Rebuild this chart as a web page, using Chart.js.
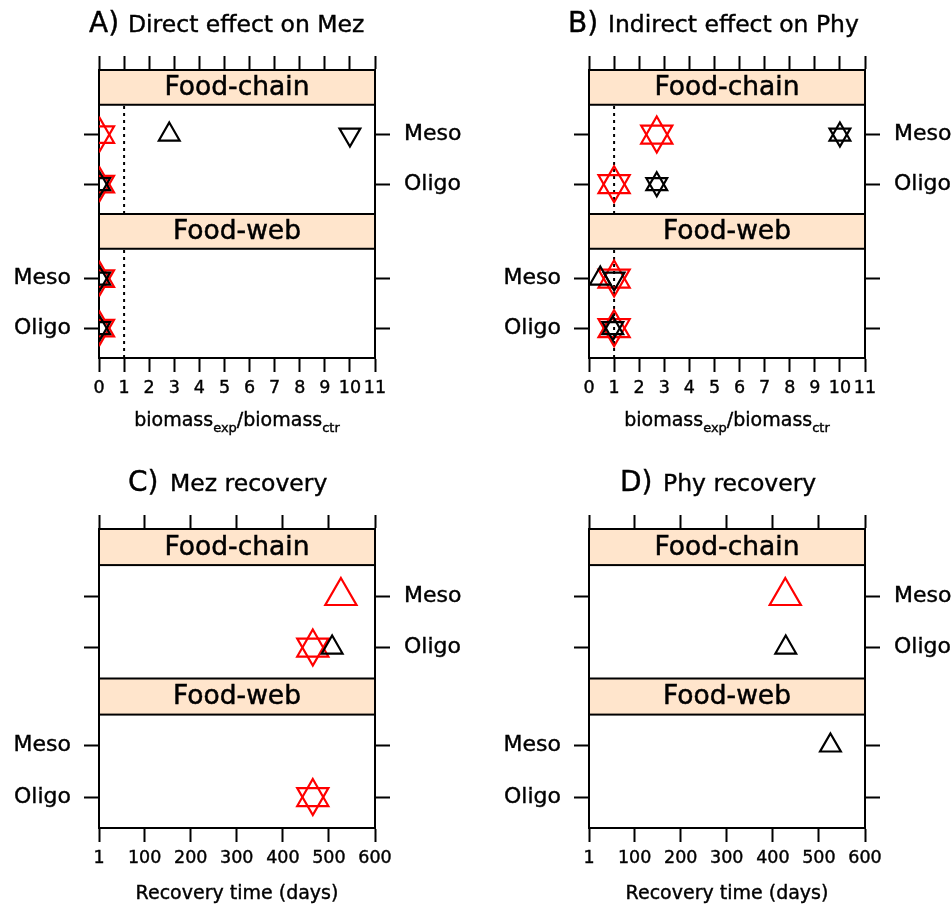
<!DOCTYPE html>
<html>
<head>
<meta charset="utf-8">
<script src="https://cdn.jsdelivr.net/npm/chart.js@4.4.1/dist/chart.umd.min.js"></script>
<style>
  body { margin: 0; background: #fff; overflow: hidden; }
  #page { position: relative; width: 951px; height: 905px; font-family: "DejaVu Sans", sans-serif; color: #000; }
  canvas { position: absolute; }
  .big, .small, .xlab { -webkit-text-stroke: 0.4px #000; }
  .big { position: absolute; font-size: 28px; line-height: 28px; white-space: nowrap; }
  .small { position: absolute; font-size: 23.5px; line-height: 23.5px; white-space: nowrap; }
  .xlab { position: absolute; width: 276px; text-align: center; font-size: 19px; line-height: 19px; white-space: nowrap; }
  .xlab sub { font-size: 13px; vertical-align: -6px; line-height: 0; }
</style>
</head>
<body>
<div id="page">
  <canvas id="panelA" width="475" height="450" style="left:0;top:0;width:475px;height:450px"></canvas>
  <canvas id="panelB" width="461" height="450" style="left:490px;top:0;width:461px;height:450px"></canvas>
  <canvas id="panelC" width="475" height="465" style="left:0;top:440px;width:475px;height:465px"></canvas>
  <canvas id="panelD" width="461" height="465" style="left:490px;top:440px;width:461px;height:465px"></canvas>

  <div class="big" style="left:89px;top:9px">A)</div>
  <div class="small" style="left:128px;top:13px">Direct effect on Mez</div>
  <div class="big" style="left:568px;top:9px">B)</div>
  <div class="small" style="left:608px;top:13px">Indirect effect on Phy</div>
  <div class="big" style="left:128px;top:468px">C)</div>
  <div class="small" style="left:170px;top:472px">Mez recovery</div>
  <div class="big" style="left:620px;top:468px">D)</div>
  <div class="small" style="left:663px;top:472px">Phy recovery</div>

  <div class="xlab" style="left:99px;top:410px">biomass<sub>exp</sub>/biomass<sub>ctr</sub></div>
  <div class="xlab" style="left:589px;top:410px">biomass<sub>exp</sub>/biomass<sub>ctr</sub></div>
  <div class="xlab" style="left:99px;top:883px">Recovery time (days)</div>
  <div class="xlab" style="left:589px;top:883px">Recovery time (days)</div>
</div>
<script>
const facets = ["Food-chain", "Food-web"];
const levels = ["Meso", "Oligo"];
const ratioTicks = [0, 1, 2, 3, 4, 5, 6, 7, 8, 9, 10, 11];
const recoveryTicks = [1, 100, 200, 300, 400, 500, 600];
const controlRatio = 1;

// row order: Food-chain Meso, Food-chain Oligo, Food-web Meso, Food-web Oligo
const mezDirectRedUp = [0.03, 0.03, 0.03, 0.03];
const mezDirectRedDown = [0.03, 0.03, 0.03, 0.03];
const mezDirectBlackUp = [2.8, 0.03, 0.03, 0.03];
const mezDirectBlackDown = [10, 0.03, 0.03, 0.03];

const phyIndirectRedUp = [2.7, 1.0, 1.0, 1.0];
const phyIndirectRedDown = [2.7, 1.0, 1.0, 1.0];
const phyIndirectBlackUp = [10, 2.7, 0.45, 0.95];
const phyIndirectBlackDown = [10, 2.7, 1.0, 0.95];

const mezRecoveryRedUp = [526, 465, null, 465];
const mezRecoveryRedDown = [null, 465, null, 465];
const mezRecoveryBlackUp = [null, 507, null, null];
const mezRecoveryBlackDown = [null, null, null, null];

const phyRecoveryRedUp = [427, null, null, null];
const phyRecoveryRedDown = [null, null, null, null];
const phyRecoveryBlackUp = [null, 428, 525, null];
const phyRecoveryBlackDown = [null, null, null, null];

// vertical layout of the two stacked facets (in y-scale units)
const rows = facets.flatMap(f => levels.map(l => [f, l]));
const facetBase = { "Food-chain": 2.9, "Food-web": 0 };
const levelOffset = { "Meso": 2, "Oligo": 1 };
const rowY = rows.map(([f, l]) => facetBase[f] + levelOffset[l]);
const yMin = 0.4, yMax = 6.2;
const facetSpans = [[0.4, 2.6], [3.3, 5.5]];
const stripSpans = [["Food-web", 2.6, 3.3], ["Food-chain", 5.5, 6.2]];

const FONT = "DejaVu Sans";
Chart.defaults.font.family = FONT;
Chart.defaults.color = "#000";

const stripPlugin = {
  id: "strips",
  beforeDatasetsDraw(chart, args, opts) {
    const { ctx, chartArea } = chart;
    const x = chart.scales.x, y = chart.scales.y;
    ctx.save();
    if (opts.refLine != null) {
      const px = x.getPixelForValue(opts.refLine);
      ctx.strokeStyle = "#000";
      ctx.lineWidth = 2;
      ctx.setLineDash([3, 4]);
      facetSpans.forEach(([lo, hi]) => {
        ctx.beginPath();
        ctx.moveTo(px, y.getPixelForValue(lo));
        ctx.lineTo(px, y.getPixelForValue(hi));
        ctx.stroke();
      });
      ctx.setLineDash([]);
    }
    stripSpans.forEach(([name, lo, hi]) => {
      const top = y.getPixelForValue(hi), bot = y.getPixelForValue(lo);
      const w = chartArea.right - chartArea.left;
      ctx.fillStyle = "#FFE5CC";
      ctx.fillRect(chartArea.left, top, w, bot - top);
      ctx.strokeStyle = "#000";
      ctx.lineWidth = 2;
      ctx.strokeRect(chartArea.left, top, w, bot - top);
      ctx.fillStyle = "#000";
      ctx.font = `26.5px "${FONT}"`;
      ctx.textAlign = "center";
      ctx.textBaseline = "middle";
      ctx.lineWidth = 0.5;
      ctx.fillText(name, chartArea.left + w / 2, (top + bot) / 2 + 1);
      ctx.strokeText(name, chartArea.left + w / 2, (top + bot) / 2 + 1);
    });
    ctx.restore();
  }
};

function markers(values, color, up, radius) {
  return {
    data: values.map((v, i) => (v == null ? null : { x: v, y: rowY[i] })).filter(p => p),
    pointStyle: "triangle",
    pointRotation: up ? 0 : 180,
    pointRadius: radius,
    pointHoverRadius: radius,
    pointBorderColor: color,
    pointBackgroundColor: "rgba(0,0,0,0)",
    pointBorderWidth: 2.2,
    pointHoverBorderWidth: 2.2,
    borderColor: color,
    showLine: false,
    clip: 0
  };
}

function xAxis(position, ticks, lo, hi, size) {
  return {
    type: "linear", axis: "x", position, min: lo, max: hi,
    afterBuildTicks: s => { s.ticks = ticks.map(v => ({ value: v })); },
    afterFit: s => { s.height = size; },
    grid: { drawOnChartArea: false, drawTicks: true, tickLength: 14, tickWidth: 2, color: "#000" },
    border: { display: true, color: "#000", width: 2 },
    ticks: {
      display: position === "bottom", color: "#000", padding: 6, maxRotation: 0, minRotation: 0,
      autoSkip: false, font: { size: 17.5 }, textStrokeColor: "#000", textStrokeWidth: 0.4,
      callback: v => String(v)
    }
  };
}

function yAxis(position, labelFacet, size) {
  return {
    type: "linear", axis: "y", position, min: yMin, max: yMax,
    afterBuildTicks: s => { s.ticks = rowY.map(v => ({ value: v })); },
    afterFit: s => { s.width = size; },
    grid: { drawOnChartArea: false, drawTicks: true, tickLength: 15, tickWidth: 2, color: "#000" },
    border: { display: true, color: "#000", width: 2 },
    ticks: {
      color: "#000", padding: position === "left" ? 13 : 14, autoSkip: false, font: { size: 22 },
      textStrokeColor: "#000", textStrokeWidth: 0.4,
      callback: v => {
        const i = rowY.indexOf(v);
        return i >= 0 && rows[i][0] === labelFacet ? rows[i][1] : "";
      }
    }
  };
}

function drawPanel(id, series, ticks, lo, hi, refLine, frame) {
  new Chart(document.getElementById(id), {
    type: "scatter",
    data: { datasets: series },
    options: {
      responsive: false, animation: false, events: [], devicePixelRatio: 1,
      layout: { padding: 0 },
      plugins: { legend: { display: false }, tooltip: { enabled: false }, strips: { refLine } },
      scales: {
        x: xAxis("bottom", ticks, lo, hi, frame.bottom),
        x2: xAxis("top", ticks, lo, hi, frame.top),
        y: yAxis("left", "Food-web", frame.left),
        y2: yAxis("right", "Food-chain", frame.right)
      }
    },
    plugins: [stripPlugin]
  });
}

const RED = "#FF0000", BLACK = "#000000";

drawPanel("panelA", [
  markers(mezDirectBlackDown, BLACK, false, 12),
  markers(mezDirectBlackUp, BLACK, true, 12),
  markers(mezDirectRedDown, RED, false, 16.5),
  markers(mezDirectRedUp, RED, true, 16.5)
], ratioTicks, 0, 11, controlRatio, { top: 70, bottom: 92, left: 99, right: 100 });

drawPanel("panelB", [
  markers(phyIndirectBlackDown, BLACK, false, 12),
  markers(phyIndirectBlackUp, BLACK, true, 12),
  markers(phyIndirectRedDown, RED, false, 18),
  markers(phyIndirectRedUp, RED, true, 18)
], ratioTicks, 0, 11, controlRatio, { top: 70, bottom: 92, left: 99, right: 86 });

drawPanel("panelC", [
  markers(mezRecoveryBlackDown, BLACK, false, 12),
  markers(mezRecoveryBlackUp, BLACK, true, 12),
  markers(mezRecoveryRedDown, RED, false, 18),
  markers(mezRecoveryRedUp, RED, true, 18)
], recoveryTicks, 1, 600, null, { top: 89, bottom: 77, left: 99, right: 100 });

drawPanel("panelD", [
  markers(phyRecoveryBlackDown, BLACK, false, 12),
  markers(phyRecoveryBlackUp, BLACK, true, 12),
  markers(phyRecoveryRedDown, RED, false, 18),
  markers(phyRecoveryRedUp, RED, true, 18)
], recoveryTicks, 1, 600, null, { top: 89, bottom: 77, left: 99, right: 86 });
</script>
</body>
</html>
